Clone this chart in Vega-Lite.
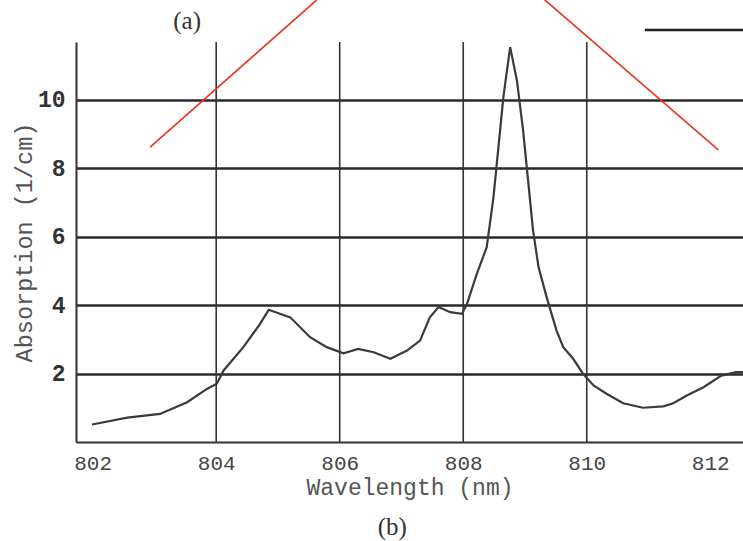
{
  "$schema": "https://vega.github.io/schema/vega-lite/v6.json",
  "width": 667,
  "height": 400,
  "autosize": {"type": "none"},
  "padding": {"left": 76, "top": 42, "right": 0, "bottom": 99},
  "background": "white",
  "config": {"view": {"stroke": null}, "font": "Liberation Mono"},
  "datasets": {
    "spectrum": [
      {"wl": 801.99, "abs": 0.51}, {"wl": 802.56, "abs": 0.71}, {"wl": 803.09, "abs": 0.82},
      {"wl": 803.53, "abs": 1.16}, {"wl": 803.85, "abs": 1.55}, {"wl": 804.01, "abs": 1.70},
      {"wl": 804.12, "abs": 2.09}, {"wl": 804.44, "abs": 2.77}, {"wl": 804.71, "abs": 3.45},
      {"wl": 804.85, "abs": 3.86}, {"wl": 805.20, "abs": 3.64}, {"wl": 805.52, "abs": 3.06},
      {"wl": 805.79, "abs": 2.77}, {"wl": 806.06, "abs": 2.59}, {"wl": 806.30, "abs": 2.72},
      {"wl": 806.55, "abs": 2.62}, {"wl": 806.82, "abs": 2.43}, {"wl": 807.09, "abs": 2.67},
      {"wl": 807.30, "abs": 2.96}, {"wl": 807.46, "abs": 3.64}, {"wl": 807.60, "abs": 3.94},
      {"wl": 807.79, "abs": 3.79}, {"wl": 807.98, "abs": 3.74}, {"wl": 808.06, "abs": 4.03},
      {"wl": 808.22, "abs": 4.91}, {"wl": 808.38, "abs": 5.69}, {"wl": 808.49, "abs": 7.15},
      {"wl": 808.57, "abs": 8.61}, {"wl": 808.65, "abs": 10.07}, {"wl": 808.76, "abs": 11.53},
      {"wl": 808.87, "abs": 10.55}, {"wl": 808.97, "abs": 9.09}, {"wl": 809.05, "abs": 7.64},
      {"wl": 809.13, "abs": 6.18}, {"wl": 809.22, "abs": 5.10}, {"wl": 809.35, "abs": 4.23},
      {"wl": 809.51, "abs": 3.26}, {"wl": 809.62, "abs": 2.77}, {"wl": 809.78, "abs": 2.43},
      {"wl": 809.94, "abs": 1.99}, {"wl": 810.11, "abs": 1.65}, {"wl": 810.32, "abs": 1.41},
      {"wl": 810.59, "abs": 1.13}, {"wl": 810.91, "abs": 1.00}, {"wl": 811.24, "abs": 1.04},
      {"wl": 811.40, "abs": 1.13}, {"wl": 811.62, "abs": 1.36}, {"wl": 811.89, "abs": 1.60},
      {"wl": 812.18, "abs": 1.94}, {"wl": 812.42, "abs": 2.04}, {"wl": 812.53, "abs": 2.04}
    ],
    "vgrid": [{"wl": 804}, {"wl": 806}, {"wl": 808}, {"wl": 810}],
    "redLines": [
      {"seg": "left", "wl": 802.93, "abs": 8.61},
      {"seg": "left", "wl": 805.63, "abs": 12.91},
      {"seg": "right", "wl": 809.32, "abs": 12.91},
      {"seg": "right", "wl": 812.13, "abs": 8.53}
    ],
    "keyLine": [{"wl": 810.94, "abs": 12.03}, {"wl": 812.7, "abs": 12.03}],
    "panelLabels": [
      {"wl": 803.53, "abs": 12.3, "text": "(a)"},
      {"wl": 806.85, "abs": -2.48, "text": "(b)"}
    ]
  },
  "layer": [
    {
      "data": {"name": "vgrid"},
      "mark": {"type": "rule", "color": "#333333", "strokeWidth": 1.6},
      "encoding": {
        "x": {"field": "wl", "type": "quantitative", "scale": {"domain": [801.73, 812.53], "nice": false, "zero": false}}
      }
    },
    {
      "data": {"name": "spectrum"},
      "mark": {"type": "line", "color": "#3a3a3a", "strokeWidth": 2.2, "clip": false},
      "encoding": {
        "x": {
          "field": "wl", "type": "quantitative",
          "scale": {"domain": [801.73, 812.53], "nice": false, "zero": false},
          "axis": {
            "title": "Wavelength (nm)",
            "values": [802, 804, 806, 808, 810, 812],
            "format": "d",
            "grid": false,
            "ticks": false,
            "domainColor": "#333333",
            "domainWidth": 2,
            "labelFont": "Liberation Mono",
            "labelFontSize": 21,
            "labelColor": "#444444",
            "labelPadding": 10,
            "labelFlush": false,
            "titleFont": "Liberation Mono",
            "titleFontSize": 23,
            "titleFontWeight": "normal",
            "titleColor": "#555555",
            "titlePadding": 3,
            "encode": {
              "labels": {
                "update": {
                  "dx": {"signal": "datum.value == 802 ? -12 : datum.value == 812 ? 9 : 0"}
                }
              }
            }
          }
        },
        "y": {
          "field": "abs", "type": "quantitative",
          "scale": {"domain": [0, 11.68], "nice": false},
          "axis": {
            "title": "Absorption (1/cm)",
            "values": [2, 4, 6, 8, 10],
            "grid": true,
            "gridColor": "#2a2a2a",
            "gridWidth": 2.4,
            "gridOpacity": 1,
            "ticks": false,
            "domainColor": "#333333",
            "domainWidth": 2,
            "labelFont": "Liberation Mono",
            "labelFontSize": 23,
            "labelFontWeight": "bold",
            "labelColor": "#333333",
            "labelPadding": 11,
            "labelFlush": false,
            "titleFont": "Liberation Mono",
            "titleFontSize": 23.5,
            "titleFontWeight": "normal",
            "titleColor": "#555555",
            "titlePadding": 1
          }
        }
      }
    },
    {
      "data": {"name": "redLines"},
      "mark": {"type": "line", "color": "#e8341c", "strokeWidth": 1.6, "clip": false},
      "encoding": {
        "x": {"field": "wl", "type": "quantitative", "scale": {"domain": [801.73, 812.53], "nice": false, "zero": false}},
        "y": {"field": "abs", "type": "quantitative", "scale": {"domain": [0, 11.68], "nice": false}},
        "detail": {"field": "seg"}
      }
    },
    {
      "data": {"name": "keyLine"},
      "mark": {"type": "line", "color": "#222222", "strokeWidth": 2.6, "clip": false},
      "encoding": {
        "x": {"field": "wl", "type": "quantitative", "scale": {"domain": [801.73, 812.53], "nice": false, "zero": false}},
        "y": {"field": "abs", "type": "quantitative", "scale": {"domain": [0, 11.68], "nice": false}}
      }
    },
    {
      "data": {"name": "panelLabels"},
      "mark": {"type": "text", "font": "Liberation Serif", "fontSize": 25, "color": "#333333", "clip": false},
      "encoding": {
        "x": {"field": "wl", "type": "quantitative", "scale": {"domain": [801.73, 812.53], "nice": false, "zero": false}},
        "y": {"field": "abs", "type": "quantitative", "scale": {"domain": [0, 11.68], "nice": false}},
        "text": {"field": "text"}
      }
    }
  ]
}
